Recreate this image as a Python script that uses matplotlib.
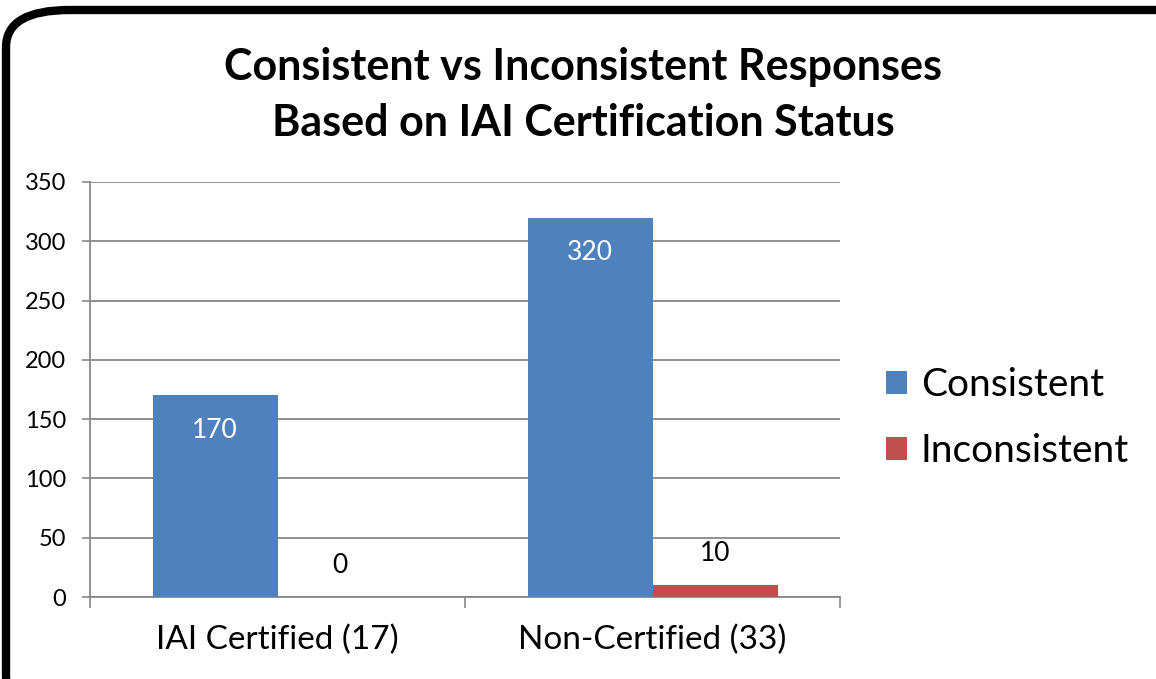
import numpy as np
import matplotlib.pyplot as plt
from matplotlib.patches import FancyBboxPatch

# chart data
categories = ["IAI Certified (17)", "Non-Certified (33)"]
consistent = [170, 320]
inconsistent = [0, 10]
series_names = ["Consistent", "Inconsistent"]
yticks = [0, 50, 100, 150, 200, 250, 300, 350]

plt.rcParams['font.family'] = ['Lato', 'DejaVu Sans']

fig = plt.figure(figsize=(11.56, 6.79), dpi=100)
ax = fig.add_axes([90 / 1156, 1 - 597 / 679, 750 / 1156, 415 / 679])

x = np.arange(len(categories))
w = 1 / 3
b1 = ax.bar(x - w / 2, consistent, w, color="#4F81BD", label=series_names[0], zorder=3)
b2 = ax.bar(x + w / 2, inconsistent, w, color="#C0504D", label=series_names[1], zorder=3)

# data labels: inside end for blue, outside end for red
for rect, v in zip(b1, consistent):
    ax.annotate(str(v), (rect.get_x() + rect.get_width() / 2, v), xytext=(0, -25),
                textcoords="offset points", ha="center", va="center",
                color="white", fontsize=19, zorder=4)
for rect, v in zip(b2, inconsistent):
    ax.annotate(str(v), (rect.get_x() + rect.get_width() / 2, v), xytext=(0, 23),
                textcoords="offset points", ha="center", va="center",
                color="black", fontsize=19, zorder=4)

ax.set_xlim(-0.5, len(categories) - 0.5)
ax.set_ylim(0, 350)
ax.set_yticks(yticks)
ax.tick_params(axis="y", labelsize=17, length=6, width=1.2, color="#888888", pad=11)
ax.yaxis.grid(True, color="#888888", linewidth=1.3, zorder=0)

# category labels with tick marks between categories
ax.set_xticks(x)
ax.set_xticklabels(categories, fontsize=24)
ax.tick_params(axis="x", length=0, pad=20)
ax.set_xticks(np.arange(len(categories) + 1) - 0.5, minor=True)
ax.tick_params(axis="x", which="minor", length=8, width=1.2, color="#888888")

for s in ["top", "right"]:
    ax.spines[s].set_visible(False)
for s in ["left", "bottom"]:
    ax.spines[s].set_color("#888888")
    ax.spines[s].set_linewidth(1.3)

fig.text(583 / 1156, 1 - 95 / 679, "Consistent vs Inconsistent Responses\nBased on IAI Certification Status",
         ha="center", va="center", fontsize=31, fontweight="bold", linespacing=1.5)

fig.legend(handles=[b1, b2], loc="center left", bbox_to_anchor=(886 / 1156, 1 - 418 / 679),
           frameon=False, fontsize=28, handlelength=0.55, handleheight=0.55,
           handletextpad=0.35, labelspacing=0.77, borderpad=0, borderaxespad=0)

# rounded border around the chart area
border = FancyBboxPatch((6 / 1156, -0.05), 1.06, 1 - 10 / 679 + 0.05,
                        boxstyle="round,pad=0,rounding_size=0.055",
                        transform=fig.transFigure, facecolor="none",
                        edgecolor="black", linewidth=6, clip_on=False)
fig.patches.append(border)

fig.savefig("out.png", dpi=100)
